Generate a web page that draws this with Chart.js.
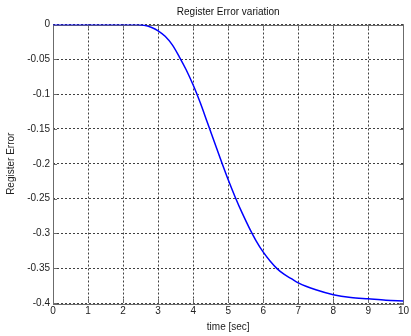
<!DOCTYPE html>
<html>
<head>
<meta charset="utf-8">
<script src="https://cdn.jsdelivr.net/npm/chart.js@4/dist/chart.umd.min.js"></script>
<style>
  html, body { margin: 0; padding: 0; background: #fff; }
  #wrap { width: 411px; height: 336px; }
</style>
</head>
<body>
<div id="wrap"><canvas id="errChart"></canvas></div>
<script>
const timeSec = [0, 0.5, 1, 1.5, 2, 2.4, 2.6, 2.8, 3, 3.2, 3.4, 3.6, 3.8, 4, 4.2, 4.4, 4.6, 4.8,
  5, 5.2, 5.4, 5.6, 5.8, 6, 6.2, 6.4, 6.6, 6.8, 7, 7.5, 8, 8.5, 9, 9.5, 10];
const registerError = [0, 0, 0, 0, 0, 0, -0.001, -0.004, -0.009, -0.017, -0.029, -0.046, -0.065,
  -0.087, -0.112, -0.140, -0.168, -0.196, -0.223, -0.248, -0.271, -0.292, -0.311, -0.327, -0.340,
  -0.351, -0.359, -0.365, -0.371, -0.381, -0.388, -0.392, -0.394, -0.396, -0.397];
const xTicks = [0, 1, 2, 3, 4, 5, 6, 7, 8, 9, 10];
const yTicks = [0, -0.05, -0.1, -0.15, -0.2, -0.25, -0.3, -0.35, -0.4];

const labelFont = { family: 'Liberation Sans, Arial, sans-serif', size: 10 };

// matlab style box with short inward tick marks
const frame = {
  id: 'frame',
  beforeDatasetsDraw(chart) {
    const { ctx, chartArea: a, scales } = chart;
    ctx.save();
    ctx.strokeStyle = '#6b6b6b';
    ctx.lineWidth = 1;
    ctx.beginPath();
    xTicks.forEach((v) => {
      const px = Math.round(scales.x.getPixelForValue(v)) + 0.5;
      ctx.moveTo(px, a.bottom); ctx.lineTo(px, a.bottom - 4);
      ctx.moveTo(px, a.top); ctx.lineTo(px, a.top + 4);
    });
    yTicks.forEach((v) => {
      const py = Math.round(scales.y.getPixelForValue(v)) + 0.5;
      ctx.moveTo(a.left, py); ctx.lineTo(a.left + 4, py);
      ctx.moveTo(a.right, py); ctx.lineTo(a.right - 4, py);
    });
    ctx.stroke();
    ctx.strokeRect(Math.round(a.left) + 0.5, Math.round(a.top) + 0.5,
      Math.round(a.right - a.left), Math.round(a.bottom - a.top));
    ctx.restore();
  }
};

new Chart(document.getElementById('errChart'), {
  type: 'line',
  data: {
    datasets: [{
      data: timeSec.map((t, i) => ({ x: t, y: registerError[i] })),
      borderColor: '#0000ff',
      borderWidth: 1.5,
      pointRadius: 0,
      cubicInterpolationMode: 'monotone',
      fill: false
    }]
  },
  options: {
    responsive: true,
    maintainAspectRatio: false,
    animation: false,
    layout: { autoPadding: false, padding: { left: 0, right: 5, top: 0, bottom: 0 } },
    plugins: {
      legend: { display: false },
      tooltip: { enabled: false },
      title: {
        display: true,
        text: 'Register Error variation',
        fullSize: false,
        color: '#111',
        font: { ...labelFont, weight: 'normal' },
        padding: { top: 6.5, bottom: 6 }
      }
    },
    scales: {
      x: {
        type: 'linear',
        min: 0,
        max: 10,
        afterFit: (scale) => { scale.height = 33; },
        afterBuildTicks: (scale) => { scale.ticks = xTicks.map((v) => ({ value: v })); },
        ticks: { color: '#222', font: labelFont, padding: 2, maxRotation: 0,
          callback: (v) => String(v) },
        grid: { color: 'rgba(0,0,0,0.75)', drawTicks: false, lineWidth: 1 },
        border: { display: false, dash: [2, 2] },
        title: { display: true, text: 'time [sec]', color: '#222', font: labelFont,
          padding: { top: 0, bottom: 3 } }
      },
      y: {
        type: 'linear',
        min: -0.4,
        max: 0,
        afterFit: (scale) => { scale.width = 53; },
        afterBuildTicks: (scale) => { scale.ticks = yTicks.map((v) => ({ value: v })); },
        ticks: { color: '#222', font: labelFont, padding: 3,
          callback: (v) => String(+v.toFixed(2)) },
        grid: { color: 'rgba(0,0,0,0.75)', drawTicks: false, lineWidth: 1 },
        border: { display: false, dash: [2, 2] },
        title: { display: true, text: 'Register Error', color: '#222', font: labelFont,
          padding: { top: 5, bottom: 0 } }
      }
    }
  },
  plugins: [frame]
});
</script>
</body>
</html>
